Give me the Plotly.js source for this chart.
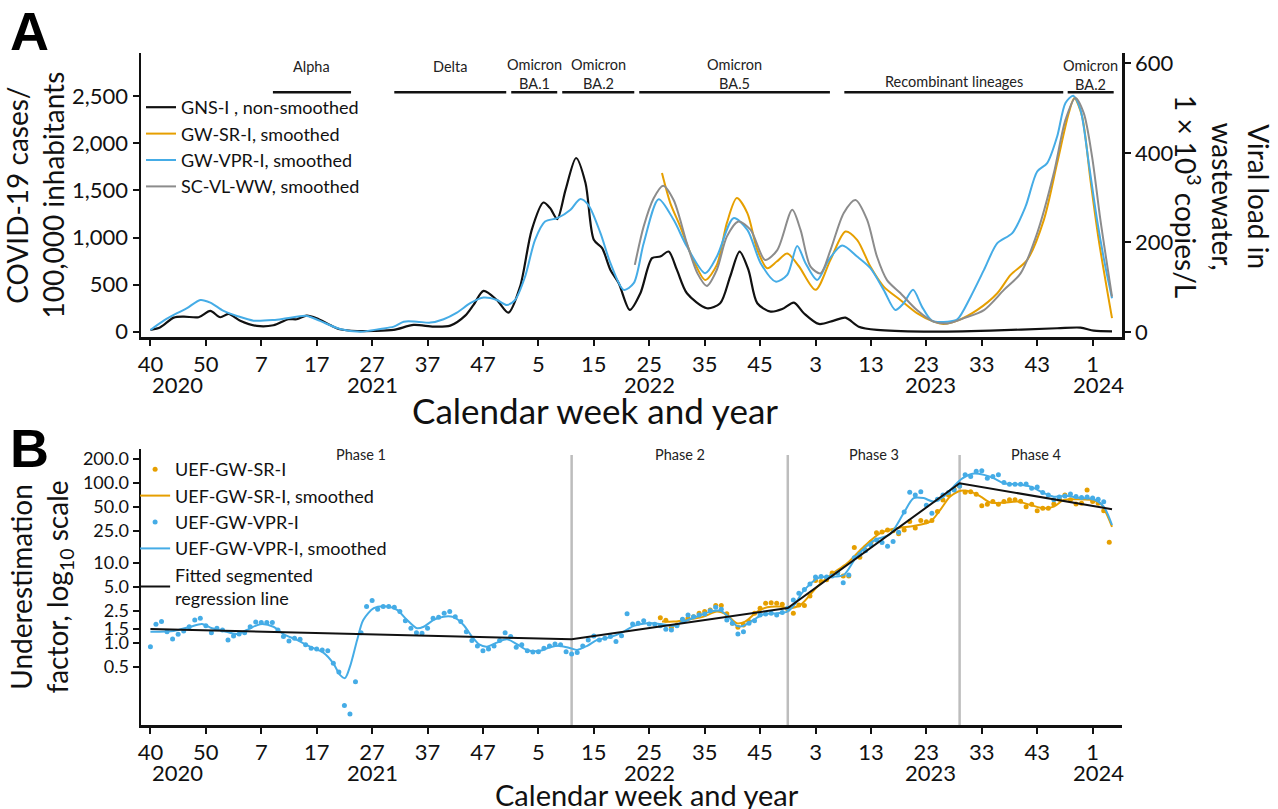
<!DOCTYPE html>
<html><head><meta charset="utf-8">
<script src="https://cdn.plot.ly/plotly-3.0.1.min.js"></script>
<style>html,body{margin:0;padding:0;background:#fff;}#chart{width:1278px;height:809px;}</style>
</head><body><div id="chart"></div>
<script>
// Week index: 0 = ISO week 40 of 2020 (2020 has 53 weeks)
const tickWeeks = [0,10,20,30,40,50,60,70,80,90,100,110,120,130,140,150,160,170];
const tickLabels = ['40','50','7','17','27','37','47','5','15','25','35','45','3','13','23','33','43','1'];
const yearLabels = ['2020','2021','2022','2023','2024'];

// ---------- Panel A ----------
const gnsWeeks = [0,1.8,4.2,6,8.7,10.8,12.6,14.1,16.2,19.2,22.2,24.9,26.4,28.2,30,32.4,34.2,37.3,40.3,43.9,47.5,51.1,54.1,56.8,58.3,60.1,62.5,64.6,66.7,68.8,70.9,72.1,73.4,74.9,76.8,78.5,80,81.5,83,84.5,86.5,88.4,90.5,92,93.5,95,96.8,100.4,102.8,104.6,106.3,107.9,109.5,111.9,114,116.1,117.9,120.6,123.3,125.4,127.8,131.1,139.5,151.6,163.6,167.8,170.2,173.5];
const gnsCases = [18,47,149,160,153,220,153,188,117,61,68,132,132,170,142,71,26,7,7,18,71,53,64,170,284,433,337,202,479,1082,1372,1313,1196,1507,1845,1579,976,887,656,515,231,408,781,798,851,656,408,249,302,585,851,656,302,213,240,309,196,82,117,149,53,18,0,11,36,43,11,4];

const gwsrWeeks = [92.3,93.8,95.6,97.7,100.1,102.2,104,105.8,107.7,109.5,111.3,113,114.9,117,120,122.7,125.4,127.5,129.9,132.3,135.3,138.3,141.3,143.1,145.6,149.2,152.8,155.2,158.2,161.2,163.6,165.7,166.7,168.1,169.6,171.1,173.5];
const gwsrCases = [1685,1366,1117,798,550,710,1153,1419,1260,869,674,745,830,695,444,763,1064,976,691,479,337,196,106,82,117,231,408,603,763,1188,1791,2323,2483,2287,1614,976,143];

const gwvprWeeks = [0,2.4,4.8,6.6,9,10.8,13.2,15.6,18.6,22.2,24.6,28.2,30.6,34.2,37.9,41.5,43.9,45.7,48.1,50.5,52.9,55.3,57.7,60.1,62.5,64.3,65.8,67.6,69.4,71.2,73.4,75.8,77.5,79,81.2,83,85.4,87.2,89,91.7,94.4,96.8,100.1,102.2,105.2,107.7,110.1,112.8,114.9,116.7,118.2,120.3,122.4,124.8,127.5,129.9,132.3,134.4,135.9,137.6,139.2,141,143.8,145.6,148,150.4,152.8,155.5,157.9,160,161.8,163.6,165.1,166.5,167.8,169.3,170.8,172.3,173.5];
const gwvprCases = [18,117,196,249,337,309,220,167,117,124,142,167,114,29,0,29,53,106,106,96,132,202,302,362,337,284,337,585,976,1170,1206,1295,1408,1348,1047,728,444,515,940,1408,1188,904,621,798,1206,1082,728,532,603,911,728,550,763,915,798,674,444,231,302,444,266,117,106,132,372,656,940,1047,1330,1702,1791,2074,2430,2507,2359,1791,1188,691,355];

const viralWeeks = [87.4,89,90.8,92.5,94.4,96.8,98.7,100.4,102.2,104,106.1,108.3,110.9,113.1,115.8,117.3,119.1,120.9,122.7,125.1,127.2,129.3,131.1,132.9,135.3,138.3,141.3,143.8,146.8,150.4,154,157,160,163,165.1,166.9,168.4,169.9,171.4,173.5];
const viralLoad = [150,236,299,327,295,198,131,103,139,213,247,228,161,183,273,228,146,131,183,266,295,251,168,116,87,49,23,19,31,49,94,131,221,355,474,523,489,392,251,79];

const variantNames = ['Alpha','Delta','Omicron<br>BA.1','Omicron<br>BA.2','Omicron<br>BA.5','Recombinant lineages','Omicron<br>BA.2'];
const variantStart = [22.1,44.0,65.1,74.3,88.2,125.2,165.5];
const variantEnd = [36.2,64.2,73.4,87.3,122.6,164.7,173.8];

// ---------- Panel B ----------
const vprDotStart = 0;
const vprDots = [0.89,1.70,1.83,1.37,1.11,1.27,1.40,1.58,1.92,2.02,1.62,1.33,1.51,1.44,1.08,1.21,1.28,1.33,1.58,1.81,1.78,1.78,1.78,1.44,1.19,1.05,1.13,1.10,0.94,0.85,0.83,0.81,0.79,0.55,0.43,0.163,0.128,0.325,1.33,2.82,3.35,2.61,2.82,2.82,2.77,2.44,1.88,1.51,1.33,1.31,1.51,2.02,2.08,2.33,2.44,2.11,1.83,1.37,
 1.06,0.91,0.79,0.83,0.91,1.06,1.33,1.19,0.875,0.94,0.79,0.765,0.77,0.85,0.91,0.96,0.94,0.77,0.72,0.75,0.91,1.08,1.21,1.08,1.13,1.19,1.03,1.22,2.3,1.71,1.75,1.87,1.71,1.70,1.62,1.47,1.44,1.62,1.96,2.22,2.11,2.22,2.28,2.51,2.77,2.61,1.92,1.75,1.28,1.37,1.75,1.88,2.22,2.28,2.33,2.22,2.37,2.69,3.42,4.15,
 4.6,5.4,6.6,6.7,6.6,6.8,7.4,5.6,7.0,11.5,12.7,14.1,16.5,19.2,17.8,16.0,18.3,24,43,76,70,77,52,41.5,62,70,75,81,91,125,119,139,141,113,119,125,100,95.5,95.5,95.5,96,85,88,75,70,61,66,68,72,67,65,66,64,62,57.5];

const srDotStart = 92;
const srDots = [2.05,1.9,1.56,1.66,1.92,2.02,2.11,2.33,2.44,2.56,2.9,2.9,2.3,1.75,1.56,1.66,1.83,2.33,2.69,3.1,3.16,3.1,3.02,2.61,2.33,2.96,2.9,3.83,5.96,5.8,6.1,7.4,7.5,6.8,6.8,15.4,11.7,14.4,18,23.6,24.2,25.6,25,23,25.6,32.6,27,33.5,32.5,33.5,43.5,60.8,70,83,91,75.6,77,71.6,51.5,53.5,58,53.5,58,61,61,58.5,50,53.5,44.4,47.7,47.7,54,62,70,61,54,55,81,58,55,44.4,18];

const vprSmoothWeeks = [0,4.2,7.2,9.3,11.1,13.2,15.6,17.4,19.8,22.2,24,26.4,28.8,31.2,33,34.2,35.1,36,37.3,38.4,40.3,42.7,44.5,46.3,48.1,49.3,51.1,52.9,54.7,56.5,58,59.3,60.7,62.5,64.3,66.1,67.9,70.3,72.1,74,75.8,77,78.8,80.6,83,85.4,87.2,89.6,92,94.4,96.2,98.6,101,102.8,104.3,105.8,107,108.8,110.6,113.1,114.9,116.4,117.6,120.6,123.3,125.1,127.5,130.5,133.5,135.9,137.7,139.5,141.3,143.1,144.9,146.5,148.6,150.4,152.2,154,156.4,158.8,161.2,163,165.4,167.8,170.2,172,173.5];
const vprSmooth = [1.37,1.40,1.58,1.71,1.51,1.40,1.28,1.44,1.70,1.58,1.28,1.08,0.89,0.75,0.55,0.395,0.36,0.50,1.08,1.92,2.69,2.82,2.56,1.92,1.51,1.58,1.92,2.11,2.08,1.66,1.19,0.95,0.89,1.0,1.10,0.96,0.81,0.79,0.875,0.91,0.85,0.81,0.91,1.08,1.17,1.37,1.62,1.75,1.71,1.62,1.83,2.11,2.44,2.51,2.11,1.62,1.62,1.92,2.26,2.33,2.44,3.1,4.22,6.49,6.68,7.0,12.1,18.8,22.8,41.5,64,64,57.9,66.8,89,113,130,125,113,98,95.5,89,73.7,66.8,68,64,62,50,29.5];

const srSmoothWeeks = [92.3,94.4,96.8,99.8,102.2,104,105.8,107.3,109.5,111.3,113.7,115.2,117.3,120.3,122.7,125.7,128.7,131.7,134.7,137.7,140.7,142.5,144.3,146.2,148,149.8,151.6,154,156.4,158.8,161.2,163,164.8,167.2,169.6,171.4,173.5];
const srSmooth = [1.83,1.83,1.92,2.11,2.44,2.22,1.75,1.83,2.44,2.77,2.82,2.69,2.96,5.0,7.0,9.8,15.8,23.3,27,28.7,32.5,45.5,66.8,79.3,77.2,66.8,56.2,56.2,57.9,52.6,47.7,50,60.8,62,60.8,55,28];

const regWeeks = [0,76,115,146,173.5];
const regFactor = [1.48,1.10,2.7,98,46.5];

const phaseNames = ['Phase 1','Phase 2','Phase 3','Phase 4'];
const phaseBreaks = [76,115,146];

const yTicksA = [0,500,1000,1500,2000,2500];
const yTicksA2 = [0,200,400,600];
const yTicksB = [0.5,1,1.5,2.5,5,10,25,50,100,200];

// ---------- styling ----------
const FONT = 'Lato, "Open Sans", sans-serif';
const BLACK = '#111111', ORANGE = '#E69F00', BLUE = '#45ACE6', GREY = '#8C8C8C';
const idx = (start, arr) => arr.map((_, k) => start + k);

const traces = [
  {x: gnsWeeks, y: gnsCases, name: 'GNS-I , non-smoothed', mode: 'lines', line: {color: BLACK, width: 2.2, shape: 'spline', smoothing: 0.8}, xaxis: 'x', yaxis: 'y', legend: 'legend'},
  {x: gwsrWeeks, y: gwsrCases, name: 'GW-SR-I, smoothed', mode: 'lines', line: {color: ORANGE, width: 2, shape: 'spline', smoothing: 0.8}, xaxis: 'x', yaxis: 'y', legend: 'legend'},
  {x: gwvprWeeks, y: gwvprCases, name: 'GW-VPR-I, smoothed', mode: 'lines', line: {color: BLUE, width: 2, shape: 'spline', smoothing: 0.8}, xaxis: 'x', yaxis: 'y', legend: 'legend'},
  {x: viralWeeks, y: viralLoad, name: 'SC-VL-WW, smoothed', mode: 'lines', line: {color: GREY, width: 2, shape: 'spline', smoothing: 0.8}, xaxis: 'x', yaxis: 'y2', legend: 'legend'},

  {x: idx(srDotStart, srDots), y: srDots, name: 'UEF-GW-SR-I', mode: 'markers', marker: {color: ORANGE, size: 5}, xaxis: 'x2', yaxis: 'y3', legend: 'legend2'},
  {x: srSmoothWeeks, y: srSmooth, name: 'UEF-GW-SR-I, smoothed', mode: 'lines', line: {color: ORANGE, width: 2, shape: 'spline', smoothing: 0.8}, xaxis: 'x2', yaxis: 'y3', legend: 'legend2'},
  {x: idx(vprDotStart, vprDots), y: vprDots, name: 'UEF-GW-VPR-I', mode: 'markers', marker: {color: BLUE, size: 5}, xaxis: 'x2', yaxis: 'y3', legend: 'legend2'},
  {x: vprSmoothWeeks, y: vprSmooth, name: 'UEF-GW-VPR-I, smoothed', mode: 'lines', line: {color: BLUE, width: 2, shape: 'spline', smoothing: 0.8}, xaxis: 'x2', yaxis: 'y3', legend: 'legend2'},
  {x: regWeeks, y: regFactor, name: 'Fitted segmented<br>regression line', mode: 'lines', line: {color: BLACK, width: 2}, xaxis: 'x2', yaxis: 'y3', legend: 'legend2'}
];

// layout helpers (plot area: x 141..1122 px, y 53..725 px)
const PX0 = 141, PW = 981, PY1 = 725, PH = 672;
const py = p => (PY1 - p) / PH;
const pxr = p => (p - PX0) / PW;

const xRange = [-1.7, 175.3];
const axisCommon = {showline: true, linecolor: BLACK, linewidth: 2.5, ticks: 'outside', ticklen: 6, tickwidth: 2, tickcolor: BLACK, showgrid: false, zeroline: false, tickfont: {family: FONT, size: 22, color: BLACK}};

const shapes = [];
const annotations = [];
variantNames.forEach((n, k) => {
  shapes.push({type: 'line', xref: 'x', yref: 'paper', x0: variantStart[k], x1: variantEnd[k], y0: py(92.3), y1: py(92.3), line: {color: BLACK, width: 2.5}});
});
const variantLabelY = [66.7, 66.5, 74, 74, 74, 81.5, 74.5];
variantNames.forEach((n, k) => {
  annotations.push({text: n, xref: 'x', yref: 'paper', x: (variantStart[k] + variantEnd[k]) / 2, y: py(variantLabelY[k]), xanchor: 'center', yanchor: 'middle', showarrow: false, font: {family: FONT, size: 14.5, color: '#222'}});
});
phaseBreaks.forEach(b => {
  shapes.push({type: 'line', xref: 'x2', yref: 'paper', x0: b, x1: b, y0: 0, y1: py(455), layer: 'below', line: {color: '#BDBDBD', width: 2.5}});
});
const phaseEdges = [0].concat(phaseBreaks, [regWeeks[regWeeks.length - 1]]);
phaseNames.forEach((n, k) => {
  annotations.push({text: n, xref: 'x2', yref: 'paper', x: (phaseEdges[k] + phaseEdges[k + 1]) / 2, y: py(454), xanchor: 'center', yanchor: 'middle', showarrow: false, font: {family: FONT, size: 14.5, color: '#222'}});
});
const yearLabelWeeks = [4.8, 40, 90, 140.7, 171];
yearLabels.forEach((t, k) => {
  annotations.push({text: t, xref: 'x', yref: 'paper', x: yearLabelWeeks[k], y: py(384), xanchor: 'center', yanchor: 'middle', showarrow: false, font: {family: FONT, size: 22, color: BLACK}});
  annotations.push({text: t, xref: 'x2', yref: 'paper', x: yearLabelWeeks[k], y: py(772), xanchor: 'center', yanchor: 'middle', showarrow: false, font: {family: FONT, size: 22, color: BLACK}});
});
// x-axis titles
annotations.push({text: 'Calendar week and year', xref: 'paper', yref: 'paper', x: pxr(595), y: py(410), xanchor: 'center', yanchor: 'middle', showarrow: false, font: {family: FONT, size: 35, color: BLACK}});
annotations.push({text: 'Calendar week and year', xref: 'paper', yref: 'paper', x: pxr(647), y: py(794), xanchor: 'center', yanchor: 'middle', showarrow: false, font: {family: FONT, size: 29, color: BLACK}});
// right y-axis title
annotations.push({text: 'Viral load in<br>wastewater,<br>1 × 10<sup>3</sup> copies/L', textangle: 90, xref: 'paper', yref: 'paper', x: pxr(1223), y: py(196), xanchor: 'center', yanchor: 'middle', showarrow: false, font: {family: FONT, size: 28, color: BLACK}});
annotations.push({text: '<b>A</b>', xref: 'paper', yref: 'paper', x: pxr(29), y: py(31), xanchor: 'center', yanchor: 'middle', showarrow: false, font: {family: 'Liberation Sans, Arial, sans-serif', size: 54, color: '#000'}});
annotations.push({text: '<b>B</b>', xref: 'paper', yref: 'paper', x: pxr(29), y: py(448), xanchor: 'center', yanchor: 'middle', showarrow: false, font: {family: 'Liberation Sans, Arial, sans-serif', size: 54, color: '#000'}});

const layout = {
  width: 1278, height: 809,
  margin: {l: 141, r: 156, t: 53, b: 84},
  paper_bgcolor: '#fff', plot_bgcolor: '#fff',
  font: {family: FONT, color: BLACK},
  showlegend: true,
  xaxis: Object.assign({}, axisCommon, {domain: [0, 1], anchor: 'y', range: xRange, tickvals: tickWeeks, ticktext: tickLabels}),
  yaxis: Object.assign({}, axisCommon, {domain: [py(337.3), 1], anchor: 'x', range: [-60, 2961], tickvals: yTicksA, ticktext: yTicksA.map(v => v.toLocaleString('en-US')),
    title: {text: 'COVID-19 cases/<br>100,000 inhabitants', font: {family: FONT, size: 28, color: BLACK}, standoff: 6}}),
  yaxis2: Object.assign({}, axisCommon, {overlaying: 'y', side: 'right', anchor: 'x', range: [-11.9, 623.4], tickvals: yTicksA2, ticktext: yTicksA2.map(String)}),
  xaxis2: Object.assign({}, axisCommon, {domain: [0, 1], anchor: 'y3', range: xRange, tickvals: tickWeeks, ticktext: tickLabels}),
  yaxis3: Object.assign({}, axisCommon, {domain: [0, py(449)], anchor: 'x2', type: 'log', range: [-1.03, 2.42], tickvals: yTicksB, ticktext: yTicksB.map(v => v.toFixed(1)),
    tickfont: {family: FONT, size: 18, color: BLACK},
    title: {text: 'Underestimation<br>factor, log<sub>10</sub> scale', font: {family: FONT, size: 28, color: BLACK}, standoff: 6}}),
  legend: {x: 0, xanchor: 'left', y: py(89), yanchor: 'top', bgcolor: 'rgba(0,0,0,0)', borderwidth: 0, font: {family: FONT, size: 18, color: BLACK}, itemwidth: 30},
  legend2: {x: -0.006, xanchor: 'left', y: py(451), yanchor: 'top', bgcolor: 'rgba(0,0,0,0)', borderwidth: 0, font: {family: FONT, size: 18, color: BLACK}, itemwidth: 30},
  shapes: shapes,
  annotations: annotations
};

Plotly.newPlot('chart', traces, layout, {displayModeBar: false, staticPlot: true});
</script>
</body></html>
